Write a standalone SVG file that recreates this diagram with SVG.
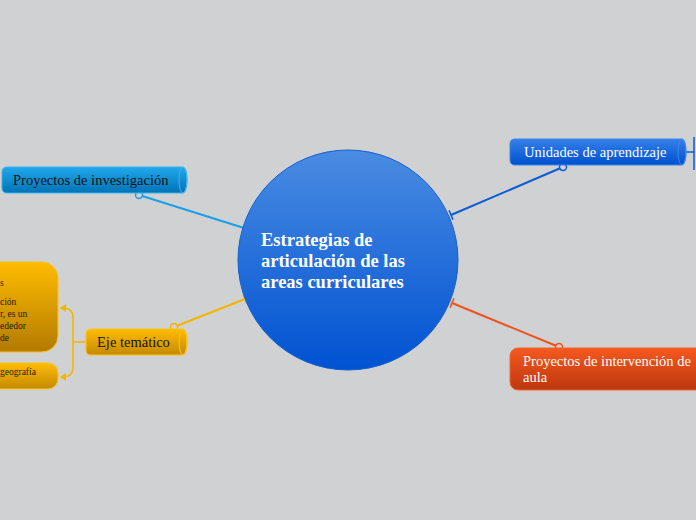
<svg xmlns="http://www.w3.org/2000/svg" width="696" height="520" viewBox="0 0 696 520">
<defs>
<linearGradient id="gCentral" x1="0" y1="0" x2="0" y2="1"><stop offset="0" stop-color="#4a8ce2"/><stop offset="1" stop-color="#0052d2"/></linearGradient>
<linearGradient id="gCyan" x1="0" y1="0" x2="0" y2="1"><stop offset="0" stop-color="#22a8ec"/><stop offset="1" stop-color="#0073b6"/></linearGradient>
<linearGradient id="gBlue" x1="0" y1="0" x2="0" y2="1"><stop offset="0" stop-color="#3580e8"/><stop offset="1" stop-color="#0050cf"/></linearGradient>
<linearGradient id="gGold" x1="0" y1="0" x2="0" y2="1"><stop offset="0" stop-color="#ffbc00"/><stop offset="1" stop-color="#c48a00"/></linearGradient>
<linearGradient id="gGold2" x1="0" y1="0" x2="0" y2="1"><stop offset="0" stop-color="#ffbc00"/><stop offset="1" stop-color="#b27a00"/></linearGradient>
<linearGradient id="gOrange" x1="0" y1="0" x2="0" y2="1"><stop offset="0" stop-color="#f5591e"/><stop offset="1" stop-color="#bd370f"/></linearGradient>
<marker id="cCyan" markerUnits="userSpaceOnUse" markerWidth="10" markerHeight="10" refX="5" refY="5" orient="auto"><circle cx="5" cy="5" r="3.5" fill="#d0d1d3" stroke="#1aa0e8" stroke-width="1.5"/></marker>
<marker id="tCyan" markerUnits="userSpaceOnUse" markerWidth="12" markerHeight="12" refX="6" refY="6" orient="auto"><line x1="6" y1="1" x2="6" y2="11" stroke="#1aa0e8" stroke-width="1.5"/></marker>
<marker id="cBlue" markerUnits="userSpaceOnUse" markerWidth="10" markerHeight="10" refX="5" refY="5" orient="auto"><circle cx="5" cy="5" r="3.5" fill="#d0d1d3" stroke="#0a5cd6" stroke-width="1.5"/></marker>
<marker id="tBlue" markerUnits="userSpaceOnUse" markerWidth="12" markerHeight="12" refX="6" refY="6" orient="auto"><line x1="6" y1="1" x2="6" y2="11" stroke="#0a5cd6" stroke-width="1.5"/></marker>
<marker id="cGold" markerUnits="userSpaceOnUse" markerWidth="10" markerHeight="10" refX="5" refY="5" orient="auto"><circle cx="5" cy="5" r="3.5" fill="#d0d1d3" stroke="#f5b400" stroke-width="1.5"/></marker>
<marker id="tGold" markerUnits="userSpaceOnUse" markerWidth="12" markerHeight="12" refX="6" refY="6" orient="auto"><line x1="6" y1="1" x2="6" y2="11" stroke="#f5b400" stroke-width="1.5"/></marker>
<marker id="cOrange" markerUnits="userSpaceOnUse" markerWidth="10" markerHeight="10" refX="5" refY="5" orient="auto"><circle cx="5" cy="5" r="3.5" fill="#d0d1d3" stroke="#f0521e" stroke-width="1.5"/></marker>
<marker id="tOrange" markerUnits="userSpaceOnUse" markerWidth="12" markerHeight="12" refX="6" refY="6" orient="auto"><line x1="6" y1="1" x2="6" y2="11" stroke="#f0521e" stroke-width="1.5"/></marker>
</defs>
<style>
.lbl{font-family:"Liberation Serif","DejaVu Serif",serif;font-size:14.5px}
.small{font-family:"Liberation Serif","DejaVu Serif",serif;font-size:9.5px;fill:#1a1a1a}
.central{font-family:"Liberation Serif","DejaVu Serif",serif;font-size:18.5px;font-weight:bold;fill:#ffffff}
.conn{fill:none;stroke-width:2}
</style>
<rect x="0" y="0" width="696" height="520" fill="#d0d1d3"/>

<g id="connectors">
<line class="conn" x1="139" y1="195" x2="244" y2="228" stroke="#1aa0e8" marker-start="url(#cCyan)" marker-end="url(#tCyan)"/>
<line class="conn" x1="563" y1="167" x2="451" y2="215" stroke="#0a5cd6" marker-start="url(#cBlue)" marker-end="url(#tBlue)"/>
<line class="conn" x1="174" y1="327" x2="245" y2="299" stroke="#f5b400" marker-start="url(#cGold)" marker-end="url(#tGold)"/>
<line class="conn" x1="559" y1="347" x2="452" y2="303" stroke="#f0521e" marker-start="url(#cOrange)" marker-end="url(#tOrange)"/>
<path d="M86,342 H73 M63,308 Q73,308 73,318 V367 Q73,377 63,377" fill="none" stroke="#f5b400" stroke-width="1.5"/>
<polygon points="60,308 66,304 66,312" fill="#f5b400"/>
<polygon points="60,377 66,373 66,381" fill="#f5b400"/>
<path d="M686,152 H694 M694,137 V170" fill="none" stroke="#0a5cd6" stroke-width="1.5"/>
</g>

<g id="central">
<circle cx="348" cy="260" r="110" fill="url(#gCentral)" stroke="#1560d0" stroke-width="1"/>
<text class="central" x="261" y="246">Estrategias de</text>
<text class="central" x="261" y="267">articulación de las</text>
<text class="central" x="261" y="288">areas curriculares</text>
</g>

<g id="proyectos-investigacion">
<path d="M7,167 H183 A4,13 0 0 1 183,193 H7 Q2,193 2,188 V172 Q2,167 7,167 Z" fill="url(#gCyan)" stroke="#3ab4f0" stroke-width="1"/>
<ellipse cx="183" cy="180" rx="4" ry="13" fill="none" stroke="#3ab4f0" stroke-width="1"/>
<text class="lbl" x="13" y="185" fill="#111">Proyectos de investigación</text>
</g>

<g id="unidades-aprendizaje">
<path d="M515,139 H682 A4,13 0 0 1 682,165 H515 Q510,165 510,160 V144 Q510,139 515,139 Z" fill="url(#gBlue)" stroke="#3d86ec" stroke-width="1"/>
<ellipse cx="682" cy="152" rx="4" ry="13" fill="none" stroke="#3d86ec" stroke-width="1"/>
<text class="lbl" x="524" y="157" fill="#ffffff">Unidades de aprendizaje</text>
</g>

<g id="proyectos-intervencion">
<rect x="510" y="348" width="200" height="42" rx="8" fill="url(#gOrange)" stroke="#f7632a" stroke-width="1"/>
<text class="lbl" x="523" y="366" fill="#ffffff">Proyectos de intervención de</text>
<text class="lbl" x="523" y="382" fill="#ffffff">aula</text>
</g>

<g id="eje-tematico">
<path d="M91,329 H183 A4,13 0 0 1 183,355 H91 Q86,355 86,350 V334 Q86,329 91,329 Z" fill="url(#gGold)" stroke="#ffc21a" stroke-width="1"/>
<ellipse cx="183" cy="342" rx="4" ry="13" fill="none" stroke="#ffc21a" stroke-width="1"/>
<text class="lbl" x="97" y="347" fill="#111">Eje temático</text>
</g>

<g id="eje-hijo-1">
<rect x="-40" y="262" width="98" height="90" rx="16" fill="url(#gGold2)" stroke="#ffc21a" stroke-width="1"/>
<text class="small" x="0" y="286">s</text>
<text class="small" x="0" y="305">ción</text>
<text class="small" x="0" y="317">r, es un</text>
<text class="small" x="0" y="329">ededor</text>
<text class="small" x="0" y="341">de</text>
</g>

<g id="eje-hijo-2">
<rect x="-40" y="363" width="98" height="26" rx="10" fill="url(#gGold)" stroke="#ffc21a" stroke-width="1"/>
<text class="small" x="0" y="375">geografía</text>
</g>
</svg>
